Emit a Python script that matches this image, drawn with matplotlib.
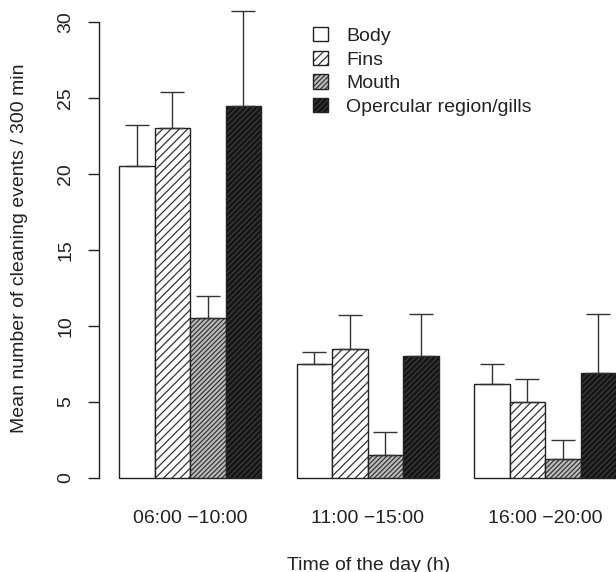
import matplotlib
matplotlib.use('Agg')
import matplotlib.pyplot as plt
from matplotlib.patches import Patch
from matplotlib.legend_handler import HandlerTuple
import numpy as np

plt.rcParams['font.family'] = ['Liberation Sans', 'DejaVu Sans']
plt.rcParams['hatch.linewidth'] = 0.9

# data
periods = ['06:00 \u221210:00', '11:00 \u221215:00', '16:00 \u221220:00']
parts = ['Body', 'Fins', 'Mouth', 'Opercular region/gills']
body = [20.5, 7.5, 6.2]
fins = [23.0, 8.5, 5.0]
mouth = [10.5, 1.5, 1.25]
opercular = [24.5, 8.0, 6.9]
body_err = [2.7, 0.8, 1.3]
fins_err = [2.4, 2.2, 1.5]
mouth_err = [1.5, 1.5, 1.25]
opercular_err = [6.2, 2.8, 3.9]

means = [body, fins, mouth, opercular]
errs = [body_err, fins_err, mouth_err, opercular_err]

# fill, hatch, hatch colour for each body part
styles = [
    ('white', None, '#333333'),
    ('white', '////', '#333333'),
    ('#bdbdbd', '///////', '#363636'),
    ('#151515', '//////', '#3c3c3c'),
]

FS = 14
W, H = 616, 572
fig = plt.figure(figsize=(W / 100, H / 100), dpi=100)

# pixel layout: x unit = one bar, y unit = one event
px_unit_x = 35.5
xlim = (0.44, 15.56)
left_px = 119 - (1 - xlim[0]) * px_unit_x
width_px = (xlim[1] - xlim[0]) * px_unit_x
px_unit_y = 15.2
ylim = (-1.0, 31.3)
bottom_px = 478 + (0 - ylim[0]) * px_unit_y
height_px = (ylim[1] - ylim[0]) * px_unit_y

ax = fig.add_axes([left_px / W, 1 - bottom_px / H, width_px / W, height_px / H])
ax.set_xlim(*xlim)
ax.set_ylim(*ylim)

for k, (vals, ev, (fc, hatch, hc)) in enumerate(zip(means, errs, styles)):
    x = np.arange(len(periods)) * 5 + 1.5 + k
    ax.bar(x, vals, width=1.0, color=fc, hatch=hatch, edgecolor=hc, linewidth=0)
    ax.bar(x, vals, width=1.0, fill=False, edgecolor='#222222', linewidth=1.0)
    ax.errorbar(x, vals, yerr=[np.zeros(len(vals)), ev], fmt='none',
                ecolor='#333333', elinewidth=1.0, capsize=8.6, capthick=1.0)

for s in ['top', 'right', 'bottom']:
    ax.spines[s].set_visible(False)
ax.spines['left'].set_bounds(0, 30)
ax.spines['left'].set_color('#222222')
ax.spines['left'].set_linewidth(1.0)

ax.set_yticks(np.arange(0, 31, 5))
ax.tick_params(axis='y', length=8, width=1.0, color='#222222', pad=10,
               labelsize=FS, labelrotation=90, labelcolor='#222222')
ax.set_xticks(np.arange(len(periods)) * 5 + 3)
ax.set_xticklabels(periods)
ax.tick_params(axis='x', length=0, pad=12, labelsize=FS, labelcolor='#222222')
for t in ax.get_yticklabels():
    t.set_va('center')

fig.text(369 / W, 1 - 565 / H, 'Time of the day (h)', ha='center', va='center',
         fontsize=FS, color='#222222')
fig.text(20 / W, 1 - 248 / H, 'Mean number of cleaning events / 300 min',
         rotation=90, ha='center', va='center', fontsize=FS, color='#222222')

handles = []
for fc, hatch, hc in styles:
    handles.append((Patch(facecolor=fc, hatch=hatch, edgecolor=hc, linewidth=0),
                    Patch(fill=False, edgecolor='#222222', linewidth=1.0)))
fig.legend(handles, parts, loc='upper left', bbox_to_anchor=(313 / W, 1 - 27 / H),
           frameon=False, fontsize=FS, handlelength=0.75, handleheight=0.75,
           handletextpad=0.95, labelspacing=0.3, borderpad=0, borderaxespad=0,
           handler_map={tuple: HandlerTuple(ndivide=1, pad=0)}, labelcolor='#222222')

fig.savefig('out.png', dpi=100)
